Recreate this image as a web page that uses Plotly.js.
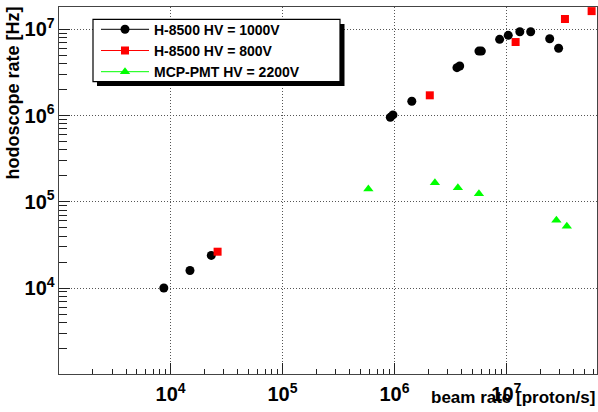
<!DOCTYPE html>
<html>
<head>
<meta charset="utf-8">
<script src="https://cdn.plot.ly/plotly-3.0.1.min.js"></script>
<style>html,body{margin:0;padding:0;background:#fff;}#chart{width:598px;height:412px;}</style>
</head>
<body>
<div id="chart"></div>
<script>
// H-8500 HV = 1000V
var h1000X = [8.7e3, 1.49e4, 2.31e4, 9.19e5, 9.70e5, 1.43e6, 3.62e6, 3.83e6, 5.69e6, 5.98e6, 8.71e6, 1.04e7, 1.32e7, 1.65e7, 2.44e7, 2.93e7];
var h1000Y = [1.0e4, 1.6e4, 2.39e4, 9.55e5, 1.02e6, 1.47e6, 3.60e6, 3.76e6, 5.61e6, 5.61e6, 7.67e6, 8.53e6, 9.4e6, 9.4e6, 7.8e6, 6.04e6];
// H-8500 HV = 800V
var h800X = [2.63e4, 2.07e6, 1.21e7, 3.34e7, 5.78e7];
var h800Y = [2.64e4, 1.72e6, 7.14e6, 1.32e7, 1.63e7];
// MCP-PMT HV = 2200V
var mcpX = [5.85e5, 2.30e6, 3.69e6, 5.69e6, 2.80e7, 3.47e7];
var mcpY = [1.41e5, 1.67e5, 1.46e5, 1.24e5, 6.1e4, 5.2e4];

var seriesNames = ['H-8500 HV = 1000V', 'H-8500 HV = 800V', 'MCP-PMT HV = 2200V'];
var xTitle = 'beam rate [proton/s]';
var yTitle = 'hodoscope rate [Hz]';

var FONT = 'Liberation Sans, Arial, Helvetica, sans-serif';

var styles = [
  {color: '#000000', symbol: 'circle', size: 9},
  {color: '#ff0000', symbol: 'square', size: 8},
  {color: '#00ff00', symbol: 'triangle-up', size: 9}
];
var xs = [h1000X, h800X, mcpX];
var ys = [h1000Y, h800Y, mcpY];

var traces = [];
for (var i = 0; i < 3; i++) {
  traces.push({
    x: xs[i], y: ys[i], type: 'scatter', mode: 'markers', showlegend: false,
    marker: {color: styles[i].color, symbol: styles[i].symbol, size: styles[i].size, line: {width: 0}},
    cliponaxis: false
  });
}
// legend-only entries (line + marker, as in the original legend)
for (var j = 0; j < 3; j++) {
  traces.push({
    x: [null], y: [null], type: 'scatter', mode: 'lines+markers', name: seriesNames[j],
    line: {color: styles[j].color, width: 1},
    marker: {color: styles[j].color, symbol: styles[j].symbol, size: styles[j].size}
  });
}

var W = 598, H = 412, ML = 59, MR = 1, MT = 7, MB = 38;
var PW = W - ML - MR, PH = H - MT - MB;
function px(xp) { return (xp - ML) / PW; }
function py(yp) { return (H - MB - yp) / PH; }

var axisCommon = {
  type: 'log',
  dtick: 1,
  exponentformat: 'power',
  showline: true, mirror: true, linecolor: '#444', linewidth: 1.2,
  ticks: 'inside', ticklen: 11, tickwidth: 1, tickcolor: '#222',
  showgrid: true, gridcolor: '#555', griddash: '1px,2px', gridwidth: 1,
  zeroline: false,
  tickfont: {family: FONT, size: 16, color: '#000', weight: 'bold'},
  minor: {dtick: 'D1', ticks: 'inside', ticklen: 5, tickwidth: 1, tickcolor: '#222', showgrid: false}
};

var layout = {
  width: W, height: H,
  margin: {l: ML, r: MR, t: MT, b: MB, pad: 0},
  paper_bgcolor: '#fff', plot_bgcolor: '#fff',
  font: {family: FONT, color: '#000'},
  xaxis: Object.assign({}, axisCommon, {range: [3.003, 7.81], ticklabelstandoff: 3}),
  yaxis: Object.assign({}, axisCommon, {range: [3.003, 7.26],
    minor: {dtick: 'D1', ticks: 'inside', ticklen: 7.5, tickwidth: 1, tickcolor: '#222', showgrid: false}}),
  showlegend: true,
  legend: {
    x: px(96), y: py(13.7), xanchor: 'left', yanchor: 'top',
    bgcolor: 'rgba(0,0,0,0)', borderwidth: 0,
    font: {family: FONT, size: 14, color: '#000', weight: 'bold'},
    itemwidth: 48
  },
  shapes: [
    {type: 'rect', xref: 'paper', yref: 'paper', x0: px(97), x1: px(344.5), y0: py(86), y1: py(24),
     fillcolor: '#000', line: {width: 0}, layer: 'above'},
    {type: 'rect', xref: 'paper', yref: 'paper', x0: px(93), x1: px(340), y0: py(81.7), y1: py(19.3),
     fillcolor: '#fff', line: {color: '#000', width: 1.2}, layer: 'above'}
  ],
  annotations: [
    {text: xTitle, xref: 'paper', yref: 'paper', x: 1.0, y: py(397), xanchor: 'right', yanchor: 'middle',
     showarrow: false, font: {family: FONT, size: 17, color: '#000', weight: 'bold'}},
    {text: yTitle, xref: 'paper', yref: 'paper', x: px(13), y: py(5), xanchor: 'center', yanchor: 'top',
     textangle: -90, showarrow: false, font: {family: FONT, size: 18, color: '#000', weight: 'bold'}}
  ]
};

Plotly.newPlot('chart', traces, layout, {displayModeBar: false, staticPlot: true});
</script>
</body>
</html>
